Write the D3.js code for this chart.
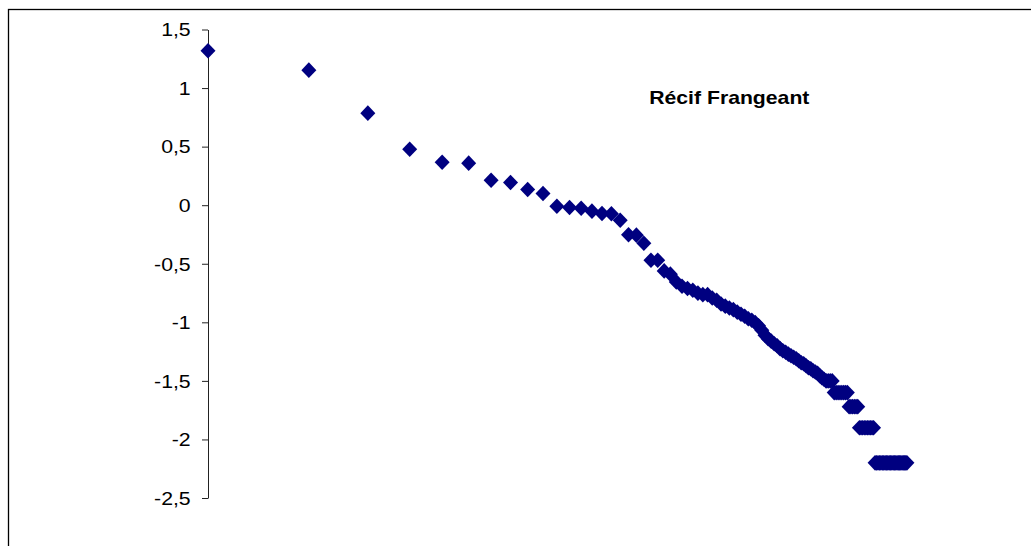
<!DOCTYPE html>
<html>
<head>
<meta charset="utf-8">
<script src="https://cdn.jsdelivr.net/npm/d3@7"></script>
<style>
  html, body { margin: 0; padding: 0; background: #fff; }
  svg { display: block; }
  text { font-family: "Liberation Sans", Arial, sans-serif; }
</style>
</head>
<body>
<svg id="chart" width="1031" height="546"></svg>
<script>
// Rank–abundance values (log10 of relative abundance, %), ordered by rank
const abundance = [
  1.319, 1.153, 0.786, 0.478, 0.367, 0.359, 0.213, 0.194, 0.134, 0.100,
  -0.009, -0.020, -0.026, -0.051, -0.071, -0.073, -0.128, -0.252, -0.256, -0.325,
  -0.470, -0.470, -0.561, -0.589, -0.655, -0.692, -0.711, -0.726, -0.751, -0.764,
  -0.764, -0.792, -0.811, -0.844, -0.862, -0.878, -0.892, -0.913, -0.931, -0.948,
  -0.970, -0.982, -1.003, -1.029, -1.067, -1.110, -1.140, -1.161, -1.183, -1.200,
  -1.225, -1.243, -1.255, -1.272, -1.285, -1.298, -1.311, -1.328, -1.345, -1.354,
  -1.371, -1.388, -1.396, -1.413, -1.424, -1.435, -1.456, -1.473, -1.486, -1.500,
  -1.500, -1.500, -1.500,
  -1.600, -1.600, -1.600, -1.600, -1.600, -1.600, -1.600, -1.600,
  -1.720, -1.720, -1.720, -1.720, -1.720, -1.720,
  -1.900, -1.900, -1.900, -1.900, -1.900, -1.900, -1.900, -1.900, -1.900, -1.900,
  -2.200, -2.200, -2.200, -2.200, -2.200, -2.200, -2.200, -2.200, -2.200, -2.200,
  -2.200, -2.200, -2.200, -2.200, -2.200, -2.200, -2.200, -2.200, -2.200, -2.200,
  -2.200, -2.200, -2.200, -2.200, -2.200
];
const ranks = abundance.map((_, i) => i + 1);

const yTicks = [1.5, 1, 0.5, 0, -0.5, -1, -1.5, -2, -2.5];
const yTickLabels = ["1,5", "1", "0,5", "0", "-0,5", "-1", "-1,5", "-2", "-2,5"];
const chartTitle = "Récif Frangeant";

const svg = d3.select("#chart");

// Chart frame
svg.append("rect")
  .attr("x", 8.5).attr("y", 9.5)
  .attr("width", 1060).attr("height", 580)
  .attr("fill", "#fff")
  .attr("stroke", "#000")
  .attr("stroke-width", 1.3);

// Log-scaled rank axis (not drawn), linear value axis
const x = d3.scaleLog().domain([1, 1000]).range([208, 1213]);
const y = d3.scaleLinear().domain([-2.5, 1.5]).range([498, 29.5]);

const yAxis = d3.axisLeft(y)
  .tickValues(yTicks)
  .tickSize(6)
  .tickSizeOuter(0)
  .tickFormat((d, i) => yTickLabels[i]);

const gy = svg.append("g")
  .attr("transform", "translate(208,0)")
  .call(yAxis);

gy.select(".domain").attr("stroke", "#222").attr("stroke-width", 1);
gy.selectAll(".tick line").attr("stroke", "#222");
gy.selectAll(".tick text")
  .attr("x", 0)
  .attr("dy", "0.34em")
  .attr("transform", "translate(-17.3,0) scale(1.15,1)")
  .attr("fill", "#000")
  .style("font-size", "18.5px")
  .style("font-family", "'Liberation Sans', Arial, sans-serif");

// Diamond markers
const diamond = "M0,-7.8L7.5,0L0,7.8L-7.5,0Z";
svg.append("g")
  .selectAll("path")
  .data(abundance)
  .join("path")
  .attr("d", diamond)
  .attr("transform", (d, i) => `translate(${x(ranks[i])},${y(d)})`)
  .attr("fill", "#000080");

// Title
svg.append("text")
  .attr("transform", "translate(729.3,104) scale(1.14,1)")
  .attr("text-anchor", "middle")
  .style("font-size", "18.6px")
  .style("font-weight", "bold")
  .attr("fill", "#000")
  .text(chartTitle);
</script>
</body>
</html>
